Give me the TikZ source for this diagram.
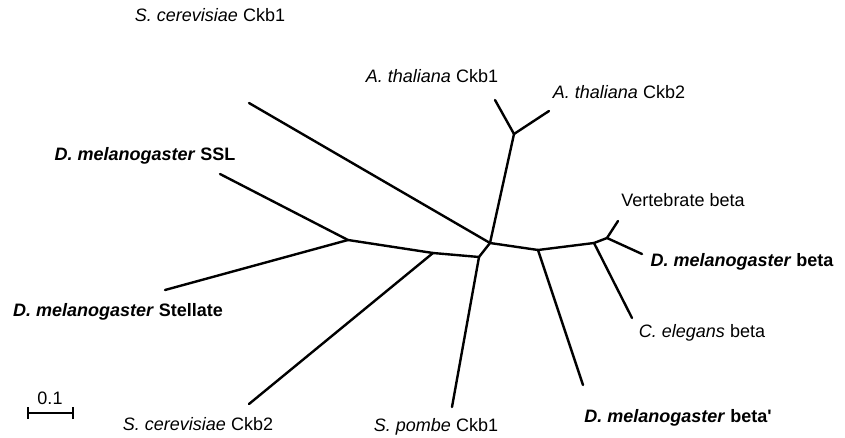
\documentclass[tikz,border=0pt]{standalone}
\usepackage{fontspec}
\setmainfont{Liberation Sans}
\begin{document}
\begin{tikzpicture}[x=1pt,y=-1pt,
  br/.style={line width=2.4pt,line cap=round,line join=round},
  lab/.style={font=\fontsize{18}{20}\selectfont,inner sep=0pt},
  bl/.style={lab,font=\fontsize{18}{20}\selectfont\bfseries}]
\useasboundingbox (0,0) rectangle (845,438);
% internal nodes
\coordinate (C) at (490,243);
\coordinate (J3) at (479,257);
\coordinate (J2) at (433,253);
\coordinate (J1) at (348,240);
\coordinate (AJ) at (514,134);
\coordinate (J4) at (538,250);
\coordinate (J5) at (594,243);
\coordinate (J6) at (607,238);
% leaf ends
\coordinate (eSSL) at (220,174);
\coordinate (eStel) at (165,290);
\coordinate (eCkb2) at (249,404);
\coordinate (ePombe) at (452,407);
\coordinate (eScCkb1) at (249,103);
\coordinate (eAt1) at (495,100);
\coordinate (eAt2) at (549,111);
\coordinate (eBp) at (583,385);
\coordinate (eCel) at (632,318);
\coordinate (eVert) at (618,221);
\coordinate (eDb) at (642,254);
% edges
\draw[br] (J1) -- (eSSL);
\draw[br] (J1) -- (eStel);
\draw[br] (J1) -- (J2);
\draw[br] (J2) -- (eCkb2);
\draw[br] (J2) -- (J3);
\draw[br] (J3) -- (ePombe);
\draw[br] (J3) -- (C);
\draw[br] (C) -- (eScCkb1);
\draw[br] (C) -- (AJ);
\draw[br] (AJ) -- (eAt1);
\draw[br] (AJ) -- (eAt2);
\draw[br] (C) -- (J4);
\draw[br] (J4) -- (eBp);
\draw[br] (J4) -- (J5);
\draw[br] (J5) -- (eCel);
\draw[br] (J5) -- (J6);
\draw[br] (J6) -- (eVert);
\draw[br] (J6) -- (eDb);
% labels
\node[lab] (lScCkb1) at (210,15) {\itshape S. cerevisiae\/\upshape\ Ckb1};
\node[lab] (lAt1) at (432,76) {\itshape A. thaliana\/\upshape\ Ckb1};
\node[lab] (lAt2) at (619,92) {\itshape A. thaliana\/\upshape\ Ckb2};
\node[bl] (lSSL) at (145,156) {\itshape D. melanogaster\/\upshape\ SSL};
\node[bl] (lStel) at (118,312) {\itshape D. melanogaster\/\upshape\ Stellate};
\node[lab] (lVert) at (683,200) {Vertebrate beta};
\node[bl] (lDb) at (742,262) {\itshape D. melanogaster\/\upshape\ beta};
\node[lab] (lCel) at (702,333) {\itshape C. elegans\/\upshape\ beta};
\node[lab] (lCkb2) at (198,424) {\itshape S. cerevisiae\/\upshape\ Ckb2};
\node[lab] (lPombe) at (436,427) {\itshape S. pombe\/\upshape\ Ckb1};
\node[bl] (lBp) at (678,418) {\itshape D. melanogaster\/\upshape\ beta\textquotesingle};
% scale bar
\coordinate (s0) at (28,413);
\coordinate (s1) at (73,413);
\draw[line width=2pt] (s0) -- (s1);
\draw[line width=2pt] ([yshift=-6pt]s0) -- ([yshift=6pt]s0);
\draw[line width=2pt] ([yshift=-6pt]s1) -- ([yshift=6pt]s1);
\node[lab] (lScale) at (50,398) {0.1};
\end{tikzpicture}
\end{document}
